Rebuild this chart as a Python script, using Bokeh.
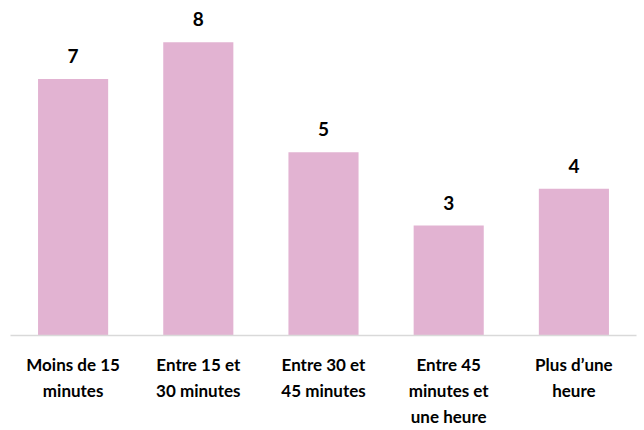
from bokeh.plotting import figure
from bokeh.models import ColumnDataSource, Range1d, FactorRange
from bokeh.core.properties import value
from bokeh.embed import file_html
from bokeh.resources import INLINE

categories = ["Moins de 15\nminutes", "Entre 15 et\n30 minutes", "Entre 30 et\n45 minutes",
              "Entre 45\nminutes et\nune heure", "Plus d\u2019une\nheure"]
counts = [7, 8, 5, 3, 4]
labels = [str(c) for c in counts]

src = ColumnDataSource(data=dict(cat=categories, val=counts, lab=labels))

p = figure(x_range=FactorRange(*categories), y_range=Range1d(0, 8.92),
           width=644, height=430, output_backend="svg", toolbar_location=None,
           min_border_left=10, min_border_right=8, min_border_top=8, min_border_bottom=93)
p.vbar(x="cat", top="val", width=0.56, source=src, fill_color="#E2B3D2", line_color=None)
p.text(x="cat", y="val", text="lab", source=src, text_align="center", text_baseline="bottom",
       y_offset=-16, text_font=value("Lato"), text_font_style="bold", text_font_size="19px",
       text_color="#000000")

p.yaxis.visible = False
p.xgrid.visible = False
p.ygrid.visible = False
p.outline_line_color = None
ax = p.xaxis[0]
ax.axis_line_color = "#D9D9D9"
ax.axis_line_width = 1.5
ax.major_tick_line_color = None
ax.minor_tick_line_color = None
ax.major_label_text_font = "Lato"
ax.major_label_text_font_style = "bold"
ax.major_label_text_font_size = "17px"
ax.major_label_text_color = "#000000"
ax.major_label_text_line_height = 1.25
ax.major_label_standoff = 12

open("out.html", "w").write(file_html(p, INLINE))
